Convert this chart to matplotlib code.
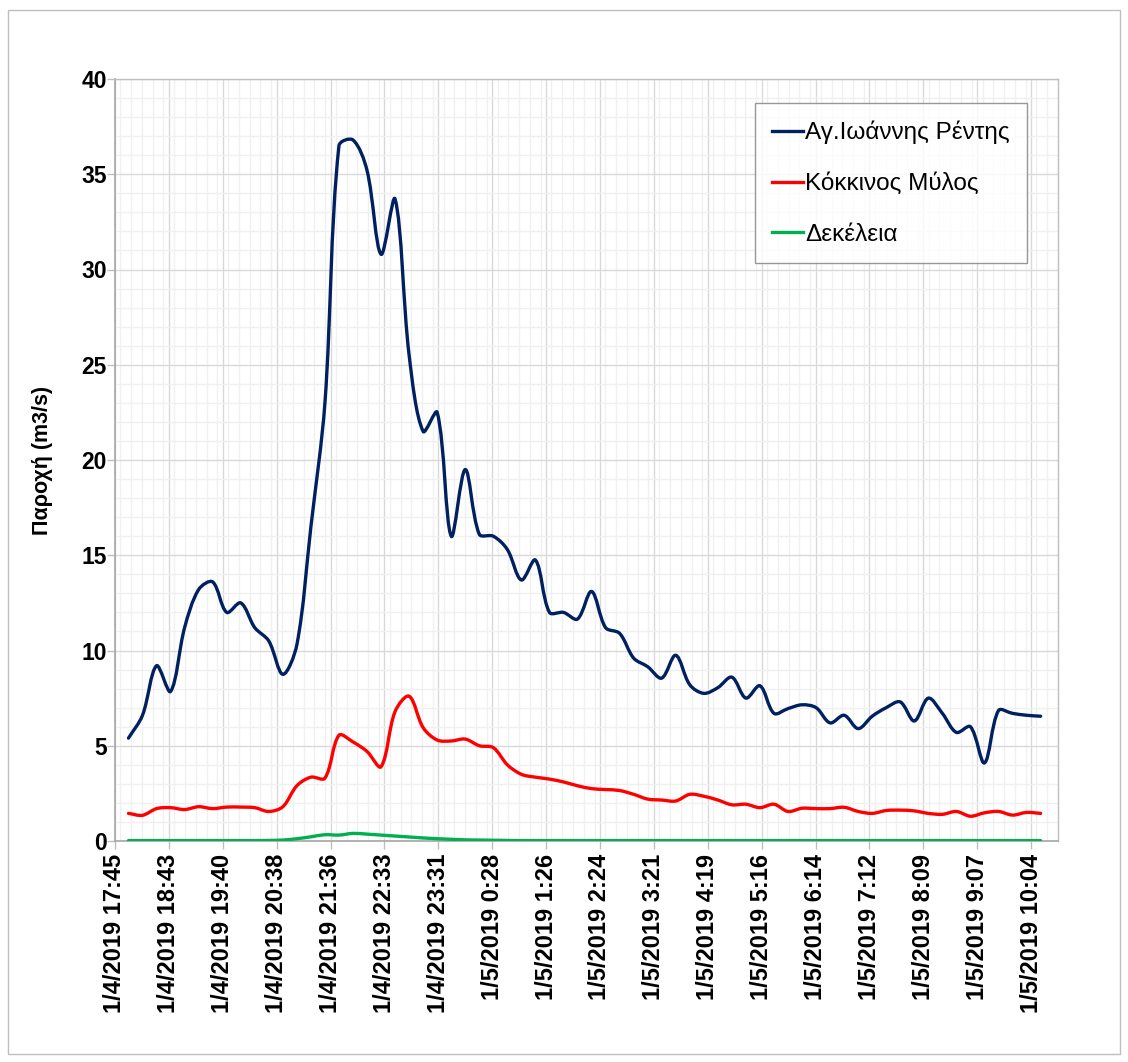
import matplotlib
matplotlib.use("Agg")
import matplotlib.pyplot as plt
from matplotlib.path import Path
from matplotlib.patches import PathPatch, Rectangle
from matplotlib.lines import Line2D
from matplotlib.ticker import MultipleLocator
import numpy as np

# ---- data (15-minute steps starting 1/4/2019 18:00) ----
start_day = 0.75          # day fraction of first sample (18:00 on 1/4)
step_day = 1.0 / 96.0     # 15 minutes

rentis = [5.4, 6.6, 9.2, 7.85, 11.2, 13.2, 13.6, 12.0, 12.5, 11.2,
          10.5, 8.75, 10.3, 16.5, 23.0, 36.5, 36.8, 35.2, 30.8, 33.7,
          25.5, 21.5, 22.5, 16.0, 19.5, 16.1, 16.0, 15.3, 13.7, 14.75,
          12.0, 12.0, 11.65, 13.1, 11.2, 10.9, 9.6, 9.15, 8.55, 9.75,
          8.2, 7.75, 8.05, 8.6, 7.5, 8.15, 6.7, 6.95, 7.15, 7.0,
          6.2, 6.6, 5.9, 6.55, 7.0, 7.3, 6.3, 7.5, 6.7, 5.7,
          6.0, 4.1, 6.85, 6.7, 6.6, 6.55]

mylos = [1.45, 1.35, 1.7, 1.75, 1.65, 1.8, 1.7, 1.78, 1.78, 1.75,
         1.55, 1.8, 2.9, 3.35, 3.3, 5.55, 5.2, 4.7, 3.9, 6.8,
         7.6, 5.95, 5.3, 5.25, 5.35, 5.0, 4.9, 4.0, 3.5, 3.35,
         3.25, 3.1, 2.9, 2.75, 2.7, 2.65, 2.45, 2.2, 2.15, 2.1,
         2.45, 2.35, 2.15, 1.9, 1.93, 1.75, 1.93, 1.55, 1.72, 1.7,
         1.7, 1.77, 1.55, 1.45, 1.6, 1.62, 1.58, 1.45, 1.4, 1.55,
         1.3, 1.48, 1.55, 1.36, 1.5, 1.45]

dekeleia = [0.02, 0.02, 0.02, 0.02, 0.02, 0.02, 0.02, 0.02, 0.02, 0.02,
            0.03, 0.05, 0.12, 0.22, 0.33, 0.31, 0.40, 0.36, 0.31, 0.26,
            0.21, 0.16, 0.12, 0.09, 0.06, 0.05, 0.04, 0.03, 0.02, 0.02,
            0.02, 0.02, 0.02, 0.02, 0.02, 0.02, 0.02, 0.02, 0.02, 0.02,
            0.02, 0.02, 0.02, 0.02, 0.02, 0.02, 0.02, 0.02, 0.02, 0.02,
            0.02, 0.02, 0.02, 0.02, 0.02, 0.02, 0.02, 0.02, 0.02, 0.02,
            0.02, 0.02, 0.02, 0.02, 0.02, 0.02]

series_names = ["Αγ.Ιωάννης Ρέντης", "Κόκκινος Μύλος", "Δεκέλεια"]
series_colors = ["#002060", "#FF0000", "#00B050"]

x_min, x_max, x_major = 0.74, 1.44, 0.04
tick_labels = ["1/4/2019 17:45", "1/4/2019 18:43", "1/4/2019 19:40",
               "1/4/2019 20:38", "1/4/2019 21:36", "1/4/2019 22:33",
               "1/4/2019 23:31", "1/5/2019 0:28", "1/5/2019 1:26",
               "1/5/2019 2:24", "1/5/2019 3:21", "1/5/2019 4:19",
               "1/5/2019 5:16", "1/5/2019 6:14", "1/5/2019 7:12",
               "1/5/2019 8:09", "1/5/2019 9:07", "1/5/2019 10:04"]
y_min, y_max = 0, 40
y_label = "Παροχή (m3/s)"

FONT = ["Liberation Sans", "DejaVu Sans"]
plt.rcParams["font.family"] = FONT

W, H = 1128, 1062
AX_L, AX_R, AX_T, AX_B = 115, 1058, 79, 841   # plot area in pixels


def smooth_path(xs, ys, sx, sy):
    """Excel-like smoothed line: cubic Bezier through every data point,
    tangents scaled by neighbouring segment lengths in screen space."""
    pts = np.column_stack([np.asarray(xs) * sx, np.asarray(ys) * sy])
    n = len(pts)
    verts = [pts[0]]
    codes = [Path.MOVETO]
    f = 1.0 / 6.0
    for i in range(n - 1):
        p0 = pts[max(i - 1, 0)]
        p1 = pts[i]
        p2 = pts[i + 1]
        p3 = pts[min(i + 2, n - 1)]
        d01 = np.hypot(*(p1 - p0))
        d12 = np.hypot(*(p2 - p1))
        d23 = np.hypot(*(p3 - p2))
        k1 = 2 * d12 / (d01 + d12) if d01 + d12 > 0 else 0
        k2 = 2 * d12 / (d12 + d23) if d12 + d23 > 0 else 0
        c1 = p1 + (p2 - p0) * f * k1
        c2 = p2 - (p3 - p1) * f * k2
        verts += [c1, c2, p2]
        codes += [Path.CURVE4] * 3
    v = np.array(verts)
    v[:, 0] /= sx
    v[:, 1] /= sy
    return Path(v, codes)


fig = plt.figure(figsize=(W / 100, H / 100), dpi=100)
ax = fig.add_axes([AX_L / W, 1 - AX_B / H, (AX_R - AX_L) / W, (AX_B - AX_T) / H])

sx = (AX_R - AX_L) / (x_max - x_min)
sy = (AX_B - AX_T) / (y_max - y_min)
xs = start_day + step_day * np.arange(len(rentis))
handles = []
for vals, name, col in zip([rentis, mylos, dekeleia], series_names, series_colors):
    patch = PathPatch(smooth_path(xs, vals, sx, sy), fill=False,
                      edgecolor=col, lw=2.4, capstyle="round",
                      joinstyle="round", zorder=3)
    ax.add_patch(patch)
    handles.append(Line2D([], [], color=col, lw=2.4))

ax.set_xlim(x_min, x_max)
ax.set_ylim(y_min, y_max)
major_x = x_min + x_major * np.arange(len(tick_labels))
ax.set_xticks(major_x)
ax.set_xticklabels(tick_labels, rotation=90, fontweight="bold", fontsize=17)
ax.xaxis.set_minor_locator(MultipleLocator(x_major / 5))
ax.yaxis.set_major_locator(MultipleLocator(5))
ax.yaxis.set_minor_locator(MultipleLocator(1))
for lab in ax.get_yticklabels():
    lab.set_fontweight("bold")
    lab.set_fontsize(16.5)

ax.grid(which="major", color="#d9d9d9", lw=1.0, zorder=0)
ax.grid(which="minor", color="#f0f0f0", lw=1.0, zorder=0)
ax.set_axisbelow(True)
ax.tick_params(which="major", direction="out", length=6, width=1,
               color="#bfbfbf")
ax.tick_params(axis="x", which="major", pad=3)
ax.tick_params(axis="y", which="major", pad=0)
ax.tick_params(which="minor", length=0)
for side in ["left", "bottom"]:
    ax.spines[side].set_color("#a6a6a6")
    ax.spines[side].set_linewidth(1.2)
for side in ["top", "right"]:
    ax.spines[side].set_color("#bfbfbf")
    ax.spines[side].set_linewidth(1.0)

ax.set_ylabel(y_label, fontweight="bold", fontsize=15.5, labelpad=20)

leg = ax.legend(handles, series_names, loc="upper right",
                bbox_to_anchor=(0.967, 0.968), borderaxespad=0,
                frameon=True, fancybox=False, fontsize=17.5,
                handlelength=1.25, handletextpad=0.08,
                labelspacing=1.17, borderpad=0.72)
leg.get_frame().set_edgecolor("#7f7f7f")
leg.get_frame().set_linewidth(1.0)

fig.patches.append(Rectangle((8 / W, 1 - 1054 / H), (1120 - 8) / W, (1054 - 10) / H,
                             transform=fig.transFigure, fill=False,
                             edgecolor="#bfbfbf", lw=1.0))

fig.savefig("out.png", dpi=100)
